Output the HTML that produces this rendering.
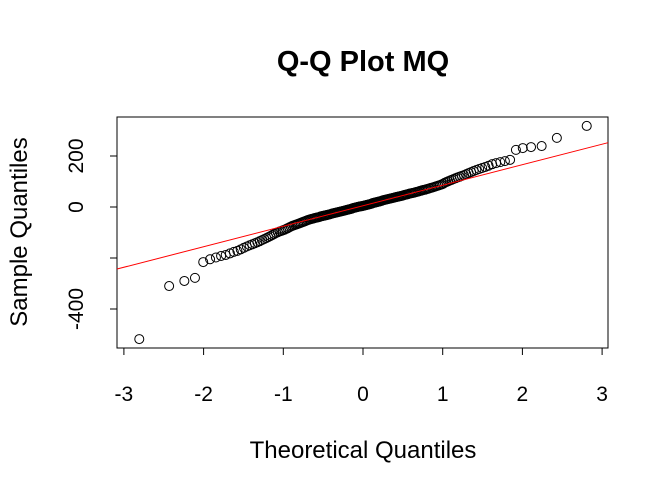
<!DOCTYPE html>
<html><head><meta charset="utf-8"><style>
body{margin:0;background:#fff;}
svg text{font-family:"Liberation Sans",Arial,sans-serif;}
</style></head><body>
<svg id="chart" width="669" height="495">
<text x="363" y="71" font-size="29" font-weight="bold" text-anchor="middle">Q-Q Plot MQ</text>
<rect x="117" y="117" width="491" height="231" fill="none" stroke="#000"/>
<text x="363" y="458" font-size="24" text-anchor="middle">Theoretical Quantiles</text>
<text transform="translate(27,232) rotate(-90)" font-size="24" text-anchor="middle">Sample Quantiles</text>
<g id="axes"></g>
<g id="marks"></g>
</svg>
<script>
const sampleValues=[-518,-310,-290,-278,-216,-205,-198,-192,-188,-182,-176,-172,-166,-160,-155,-150,-146,-142,-138,-134,-130,-126,-122,-118,-114,-110,-106,-102,-99,-96,
-94,-91,-89,-86,-83,-80,-77,-74,-72,-70,
-68,-66,-64,-62,-60,-58,-56,-54,-52,-50,
-49,-47,-46,-45,-43,-42,-41,-40,-39,-37,
-36,-35,-34,-33,-32,-31,-30,-29,-28,-26,
-25,-24,-23,-22,-21,-20,-19,-18,-17,-16,
-15,-14,-13,-12,-11,-10,-9,-8,-7,-5,
-4,-3,-2,-1,0,1,2,3,3,4,
5,6,7,8,9,10,11,12,13,15,
16,17,18,19,20,21,22,23,24,26,
27,28,29,30,31,32,33,34,35,36,
37,38,39,40,41,42,43,44,45,47,
48,49,50,52,53,54,55,56,57,59,
60,61,63,64,66,67,68,70,71,73,
75,76,78,80,82,84,86,88,91,95,
98,101,104,107,110,113,116,119,122,125,
129,133,137,141,145,149,153,157,162,168,
172,176,180,185,224,231,235,239,271,318];
const xTicks=[-3,-2,-1,0,1,2,3];
const yTicks=[-400,-200,0,200];
const yTickLabels=["-400","","0","200"];

const X=v=>363+v*79.7;
const Y=v=>207-v*0.255;
const NS='http://www.w3.org/2000/svg';
function qnorm(p){
 const a=[-39.69683028665376,220.9460984245205,-275.9285104469687,138.3577518672690,-30.66479806614716,2.506628277459239];
 const b=[-54.47609879822406,161.5858368580409,-155.6989798598866,66.80131188771972,-13.28068155288572];
 const c=[-0.007784894002430293,-0.3223964580411365,-2.400758277161838,-2.549732539343734,4.374664141464968,2.938163982698783];
 const d=[0.007784695709041462,0.3224671290700398,2.445134137142996,3.754408661907416];
 let q,r;
 if(p<0.02425){q=Math.sqrt(-2*Math.log(p));return (((((c[0]*q+c[1])*q+c[2])*q+c[3])*q+c[4])*q+c[5])/((((d[0]*q+d[1])*q+d[2])*q+d[3])*q+1);}
 if(p>1-0.02425){q=Math.sqrt(-2*Math.log(1-p));return -(((((c[0]*q+c[1])*q+c[2])*q+c[3])*q+c[4])*q+c[5])/((((d[0]*q+d[1])*q+d[2])*q+d[3])*q+1);}
 q=p-0.5;r=q*q;return (((((a[0]*r+a[1])*r+a[2])*r+a[3])*r+a[4])*r+a[5])*q/(((((b[0]*r+b[1])*r+b[2])*r+b[3])*r+b[4])*r+1);
}
const axes=document.getElementById('axes'), marks=document.getElementById('marks');
function mk(tag,attrs,parent){const e=document.createElementNS(NS,tag);for(const k in attrs)e.setAttribute(k,attrs[k]);parent.appendChild(e);return e;}
let xl=mk('line',{x1:X(xTicks[0]),x2:X(xTicks[xTicks.length-1]),y1:348,y2:348,stroke:'#000'},axes);


xTicks.forEach(t=>{
 const l=mk('line',{x1:X(t),x2:X(t),y1:348,y2:355,stroke:'#000'},axes);
 
 
 const tx=mk('text',{x:X(t),y:401,'font-size':21,'text-anchor':'middle'},axes);
 tx.textContent=t;
 
 
});
let yl=mk('line',{x1:117,x2:117,y1:Y(yTicks[0]),y2:Y(yTicks[yTicks.length-1]),stroke:'#000'},axes);


yTicks.forEach((t,i)=>{
 const l=mk('line',{x1:110,x2:117,y1:Y(t),y2:Y(t),stroke:'#000'},axes);
 
 
 if(yTickLabels[i]){
  const tx=mk('text',{transform:`translate(83,${Y(t)}) rotate(-90)`,'font-size':21,'text-anchor':'middle'},axes);
  tx.textContent=yTickLabels[i];
  
  
 }
});
const n=sampleValues.length;
const sorted=sampleValues.slice().sort((a,b)=>a-b);
sorted.forEach((v,i)=>{
 const q=qnorm((i+0.5)/n);
 const c=mk('circle',{cx:X(q),cy:Y(v),r:4.5,fill:'none',stroke:'#000','stroke-width':1},marks);
 
 
});
function quant(arr,p){const h=(arr.length-1)*p,lo=Math.floor(h);return arr[lo]+(h-lo)*(arr[lo+1]-arr[lo]);}
const y1=quant(sorted,0.25),y2=quant(sorted,0.75),x1=qnorm(0.25),x2=qnorm(0.75);
const slope=(y2-y1)/(x2-x1),inter=y1-slope*x1;
const xa=(117-363)/79.7,xb=(608-363)/79.7;
const rl=mk('line',{x1:117,x2:608,y1:Y(inter+slope*xa),y2:Y(inter+slope*xb),stroke:'#ff0000','stroke-width':1},marks);


</script>
</body></html>
